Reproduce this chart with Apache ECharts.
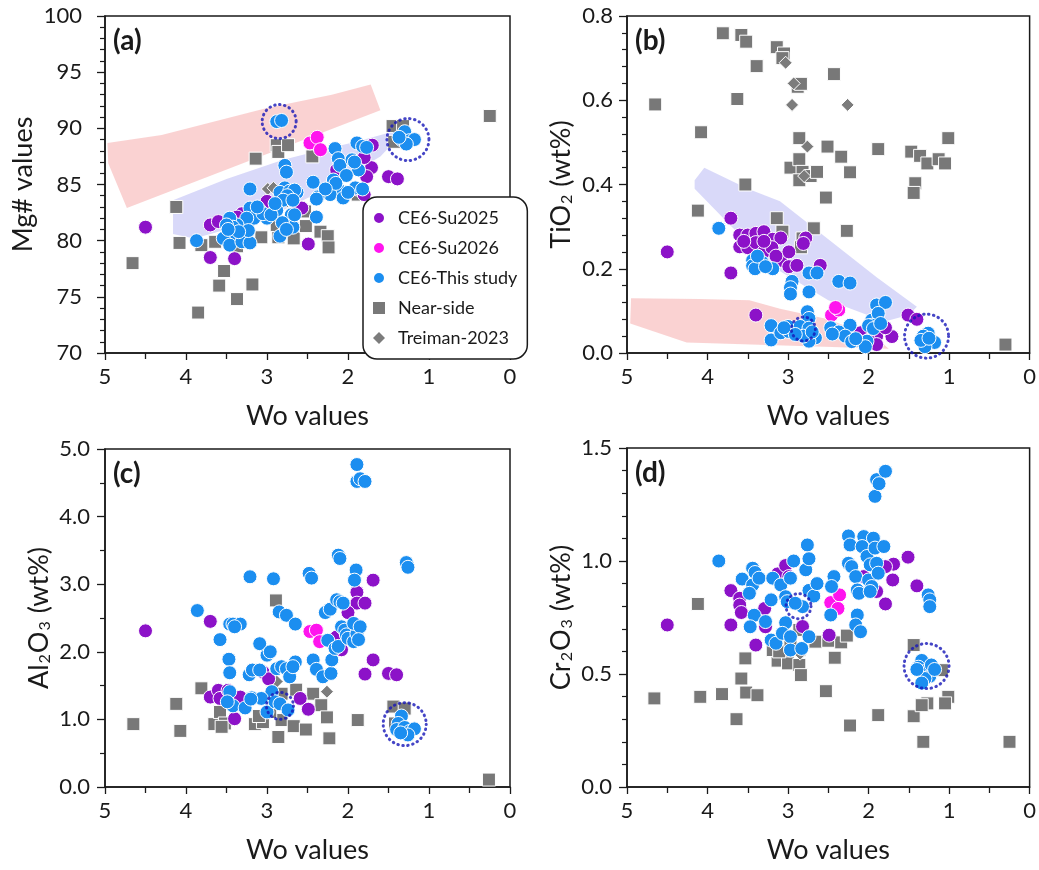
<!DOCTYPE html>
<html>
<head>
<meta charset="utf-8">
<title>Wo values scatter</title>
<script src="https://cdn.jsdelivr.net/npm/echarts@6/dist/echarts.min.js"></script>
<style>
    html, body { margin: 0; padding: 0; background: #fff; }
    #chart { width: 1039px; height: 870px; }
</style>
</head>
<body>
<div id="chart"></div>
<script>
// ---- data: [Wo, value] ----
// (a) Mg#
var nearA = [[4.66,78.0],[4.12,83.0],[4.08,79.8],[3.85,73.6],[3.81,79.6],[3.64,79.9],[3.59,76.0],[3.53,77.3],[3.37,74.8],[3.37,79.5],[3.18,76.1],[3.14,87.3],[3.07,80.3],[2.88,88.5],[2.86,87.9],[2.74,88.5],[2.86,80.3],[2.88,81.4],[2.67,80.2],[2.53,82.6],[2.52,81.3],[2.44,87.5],[2.34,80.8],[2.25,80.4],[2.24,79.4],[1.88,84.1],[1.45,90.2],[1.43,88.8],[1.32,90.2],[0.25,91.1]];
var treimanA = [[2.99,84.6],[2.92,84.7],[2.75,83.5],[2.27,84.4]];
var su25A = [[4.50,81.2],[3.70,81.4],[3.60,81.7],[3.70,78.5],[3.40,78.4],[3.31,82.4],[3.37,82.1],[3.00,83.5],[2.61,83.0],[2.57,82.9],[2.49,79.7],[1.70,88.5],[1.71,86.5],[1.50,85.7],[1.39,85.5],[1.80,87.4],[1.77,85.7],[2.14,86.3],[1.89,84.6],[1.80,84.1]];
var su26A = [[2.47,88.7],[2.38,89.2],[2.34,88.1]];
var thisA = [[2.88,90.6],[2.82,90.7],[1.30,89.7],[1.34,89.0],[1.24,88.9],[1.18,89.0],[1.28,88.6],[1.37,89.2],
    [2.16,88.2],[2.12,87.3],[2.10,86.7],[1.89,88.7],[1.82,88.4],[1.95,87.2],[1.87,86.3],[2.02,85.8],[1.92,87.0],[1.77,88.3],
    [2.18,85.4],[2.12,84.6],[2.22,84.1],[2.37,83.9],[2.43,85.2],[2.06,83.8],[1.91,84.7],[1.82,84.6],[2.15,85.1],[2.00,84.3],[2.28,84.6],
    [2.39,83.7],[2.39,82.1],[2.63,84.3],
    [2.78,86.7],[2.76,86.1],[2.78,84.7],[2.84,84.3],[2.72,84.4],[2.66,84.5],[2.75,84.0],[2.80,83.6],[2.68,83.6],
    [3.21,84.6],[3.21,82.9],[3.09,82.7],[3.00,82.0],[3.16,82.0],[3.25,82.0],[3.37,81.4],
    [3.46,82.0],[3.42,81.2],[3.50,81.4],[3.44,80.5],[3.54,80.2],[3.46,79.6],[3.31,79.9],[3.21,79.8],[3.87,80.0],[3.23,80.9],[3.35,80.8],[3.48,81.0],
    [2.84,80.4],[2.88,82.7],[2.70,82.3],[2.68,81.2],[2.81,81.6],[2.76,81.0],[3.05,82.4],[2.95,82.3],[3.12,83.0],[2.90,83.3],[2.66,82.3]];

// (b) TiO2
var nearB = [[4.65,0.59],[4.08,0.524],[3.81,0.759],[3.63,0.603],[3.58,0.755],[3.52,0.739],[3.53,0.40],[3.39,0.681],[4.12,0.338],[3.14,0.726],[3.05,0.711],[3.07,0.70],[2.86,0.51],[2.88,0.632],[2.84,0.639],[2.97,0.44],[2.86,0.46],[2.82,0.43],[2.86,0.41],[2.72,0.42],[2.64,0.43],[2.43,0.662],[2.51,0.49],[2.34,0.466],[2.23,0.429],[2.53,0.369],[3.14,0.32],[3.07,0.288],[2.68,0.296],[2.82,0.272],[2.84,0.251],[2.27,0.29],[1.88,0.484],[1.47,0.478],[1.42,0.403],[1.44,0.38],[1.36,0.468],[1.27,0.45],[1.13,0.46],[1.05,0.45],[1.01,0.51],[0.30,0.02]];
var treimanB = [[3.03,0.689],[2.95,0.589],[2.26,0.589],[2.76,0.49],[2.93,0.64],[2.80,0.42]];
var su25B = [[4.50,0.24],[3.71,0.32],[3.71,0.19],[3.60,0.28],[3.50,0.28],[3.40,0.284],[3.30,0.288],[3.60,0.252],[3.50,0.25],[3.40,0.262],[3.30,0.24],[3.19,0.27],[3.09,0.273],[3.09,0.22],[2.99,0.24],[2.99,0.205],[2.89,0.208],[2.78,0.273],[2.81,0.26],[2.60,0.208],[3.20,0.25],[3.30,0.265],[3.55,0.265],[3.15,0.23],
    [3.40,0.09],[2.10,0.048],[1.90,0.04],[1.71,0.039],[1.79,0.06],[2.00,0.03],[1.90,0.02],[1.51,0.09],[1.40,0.08]];
var su26B = [[2.46,0.09],[2.37,0.102],[2.41,0.108]];
var thisB = [[3.86,0.296],[3.44,0.22],[3.32,0.215],[3.44,0.207],[3.19,0.20],[3.41,0.20],[3.38,0.23],[3.28,0.205],[2.74,0.19],[2.64,0.19],[2.95,0.17],[2.97,0.155],[2.97,0.14],[2.74,0.145],[2.37,0.17],[2.23,0.166],[2.76,0.098],[2.74,0.082],
    [3.21,0.065],[3.21,0.031],[3.09,0.048],[2.99,0.051],[3.00,0.063],[2.85,0.063],[2.74,0.059],[2.66,0.036],[2.74,0.028],[2.81,0.04],[2.91,0.044],[3.05,0.06],[2.70,0.05],
    [2.47,0.06],[2.23,0.066],[2.37,0.05],[2.29,0.04],[2.14,0.031],[2.02,0.028],[2.04,0.015],[2.21,0.027],[2.45,0.045],[2.16,0.034],
    [1.96,0.078],[1.90,0.114],[1.79,0.12],[1.88,0.094],[1.96,0.066],[2.00,0.065],[1.94,0.058],[1.85,0.07],
    [1.26,0.047],[1.32,0.04],[1.28,0.025],[1.22,0.03],[1.18,0.025],[1.30,0.015],[1.35,0.03],[1.25,0.035]];

// (c) Al2O3
var nearC = [[4.65,0.93],[4.12,1.23],[4.07,0.83],[3.81,1.46],[3.65,0.93],[3.58,1.11],[3.52,0.94],[3.56,0.89],[2.89,2.76],[2.86,0.74],[3.15,0.93],[3.05,0.96],[2.82,0.99],[2.82,1.38],[2.67,0.90],[2.64,1.44],[2.52,0.85],[2.43,1.38],[2.33,1.21],[2.26,1.03],[2.23,0.72],[1.88,0.99],[1.44,1.19],[1.30,1.16],[1.42,0.94],[0.26,0.11],[2.96,1.11],[3.10,1.05]];
var treimanC = [[2.26,1.41],[2.96,1.53],[2.88,1.56]];
var su25C = [[4.50,2.31],[3.70,2.45],[3.70,1.33],[3.60,1.43],[3.58,1.31],[3.48,1.43],[3.40,1.01],[3.33,1.33],[3.05,1.70],[2.98,1.60],[2.59,1.31],[2.49,1.15],[1.69,3.06],[1.89,2.88],[1.89,2.72],[1.79,2.72],[2.00,2.58],[2.08,2.03],[1.69,1.88],[1.79,1.67],[1.50,1.68],[1.40,1.66],[2.14,2.22]];
var su26C = [[2.47,2.30],[2.39,2.32],[2.35,2.15]];
var thisC = [[3.86,2.61],[3.58,2.18],[3.46,2.41],[3.42,2.41],[3.33,2.41],[3.40,2.37],[3.47,1.89],[3.46,1.69],[3.46,1.41],[3.42,1.20],[3.49,1.26],[3.27,1.17],[3.21,3.11],[3.22,1.66],[3.18,1.73],[3.19,1.32],[3.09,2.12],[3.09,1.73],[3.05,1.31],[3.00,1.11],[3.00,1.95],[2.96,2.00],[2.92,3.08],[2.94,1.41],[2.90,1.26],[2.84,1.23],[2.74,1.14],[2.85,2.59],[2.76,2.54],[2.65,2.41],
    [2.88,1.75],[2.82,1.78],[2.76,1.75],[2.72,1.63],[2.65,1.85],[2.68,1.78],[2.48,3.16],[2.45,3.09],[2.43,1.88],[2.39,1.74],[2.31,1.63],[2.21,1.68],[2.20,1.88],[2.25,2.17],[2.28,2.58],[2.22,2.63],[2.16,2.05],[2.12,2.08],[2.14,2.77],[2.10,2.74],[2.06,2.72],[2.12,3.43],[2.10,3.38],
    [2.08,2.37],[2.04,2.32],[2.02,2.25],[2.00,2.20],[1.93,2.15],[1.89,2.27],[1.93,2.42],[1.85,2.37],[1.87,2.18],[1.90,3.21],[1.92,3.06],[1.89,4.77],[1.89,4.52],[1.85,4.56],[1.79,4.52],[1.28,3.32],[1.26,3.25],
    [1.34,1.05],[1.38,0.94],[1.40,0.85],[1.30,0.88],[1.24,0.82],[1.18,0.86],[1.26,0.77],[1.35,0.80],[3.07,1.31],[3.20,1.30]];

// (d) Cr2O3
var nearD = [[4.66,0.392],[4.12,0.81],[4.09,0.399],[3.82,0.411],[3.64,0.30],[3.58,0.48],[3.53,0.569],[3.52,0.418],[3.38,0.406],[3.13,0.559],[3.00,0.574],[3.00,0.547],[2.86,0.54],[2.84,0.495],[2.86,0.695],[2.86,0.606],[2.66,0.643],[2.50,0.647],[2.34,0.64],[2.27,0.67],[2.53,0.424],[2.42,0.572],[2.23,0.272],[1.88,0.318],[1.44,0.628],[1.44,0.313],[1.32,0.20],[1.27,0.37],[1.34,0.362],[1.09,0.517],[1.01,0.399],[1.05,0.37],[0.25,0.20],[3.19,0.606],[3.11,0.60],[2.97,0.635]];
var treimanD = [[2.85,0.59]];
var su25D = [[4.50,0.717],[3.71,0.869],[3.71,0.717],[3.60,0.835],[3.60,0.805],[3.58,0.772],[3.40,0.628],[3.29,0.79],[3.28,0.709],[3.13,0.943],[3.03,0.98],[2.99,0.931],[2.82,0.71],[2.49,0.672],[1.51,1.017],[1.40,0.89],[1.79,0.81],[1.70,0.916],[1.69,0.986],[1.79,0.975],[1.90,0.865],[2.06,0.931]];
var su26D = [[2.47,0.816],[2.36,0.85],[2.38,0.79]];
var thisD = [[3.86,1.0],[3.57,0.92],[3.44,0.968],[3.41,0.949],[3.44,0.894],[3.48,0.857],[3.36,0.924],[3.42,0.76],[3.47,0.709],[3.28,0.732],[3.21,0.65],[3.15,0.636],[3.21,0.828],[3.19,0.924],[3.09,0.894],[3.03,0.842],[3.01,0.82],[3.03,0.727],[3.07,0.68],[2.97,0.665],[2.97,0.606],[2.93,1.0],[2.97,0.924],[2.83,0.613],[2.82,0.798],[2.91,0.813],[2.78,0.961],[2.76,1.071],[2.74,1.01],[2.74,0.87],[2.68,0.845],[2.64,0.90],[2.74,0.665],
    [2.43,0.931],[2.46,0.887],[2.47,0.761],[2.25,1.111],[2.23,1.071],[2.25,0.99],[2.21,0.975],[2.16,0.931],[2.14,0.872],[2.12,0.857],[2.14,0.761],[2.16,0.717],[2.10,0.687],[2.06,1.108],[2.08,1.064],[2.02,1.02],[1.98,0.983],[1.94,1.101],[2.00,0.916],[1.96,0.887],[1.98,0.865],[1.90,0.99],[1.88,0.946],[1.92,1.057],[1.81,1.064],
    [1.92,1.286],[1.90,1.36],[1.87,1.342],[1.79,1.397],[1.26,0.85],[1.24,0.828],[1.24,0.798],
    [1.34,0.56],[1.38,0.53],[1.32,0.51],[1.24,0.49],[1.30,0.48],[1.40,0.52],[1.34,0.46],[1.22,0.54],[1.18,0.52]];

// shaded fields (polygon vertices)
var pinkA = [[4.97,88.7],[4.3,89.4],[3.0,91.8],[2.2,93.0],[1.72,93.9],[1.6,91.6],[4.73,82.9],[4.96,86.9]];
var lavA = [[4.16,83.6],[3.5,85.5],[2.8,87.2],[2.2,88.3],[1.9,88.8],[1.45,89.7],[1.4,89.0],[1.6,87.5],[2.3,84.5],[3.0,82.0],[3.9,80.2],[4.16,80.6]];
var pinkB = [[4.95,0.13],[4.1,0.128],[3.48,0.125],[3.1,0.105],[2.5,0.08],[1.9,0.035],[1.75,0.01],[4.26,0.025],[4.96,0.07]];
var lavB = [[4.16,0.41],[4.04,0.44],[3.5,0.39],[3.1,0.36],[2.5,0.27],[1.9,0.18],[1.4,0.11],[1.5,0.09],[1.8,0.075],[2.5,0.125],[3.15,0.2],[3.7,0.3],[4.16,0.39]];

// dotted rings: [Wo, value, diameter]
var ringsA = [[2.85,90.6,34],[1.26,89.0,42]];
var ringsB = [[2.81,0.057,24],[1.28,0.04,44]];
var ringsC = [[2.84,1.2,27],[1.30,0.93,43]];
var ringsD = [[2.87,0.80,25],[1.28,0.535,45]];

var legendNames = ["CE6-Su2025", "CE6-Su2026", "CE6-This study", "Near-side", "Treiman-2023"];
var panelLabels = ["(a)", "(b)", "(c)", "(d)"];

var FONT = "Lato";
var INK = "#1a1a1a";

function scatterSeries(name, data, idx, symbol, size, color, z) {
    return {
        name: name,
        type: "scatter",
        xAxisIndex: idx,
        yAxisIndex: idx,
        symbol: symbol,
        symbolSize: size,
        data: data,
        z: z,
        itemStyle: { color: color, borderColor: "#fff", borderWidth: 1, opacity: 1 },
        emphasis: { disabled: true }
    };
}

function fieldSeries(poly, idx, color) {
    return {
        type: "custom",
        xAxisIndex: idx,
        yAxisIndex: idx,
        silent: true,
        z: 1,
        data: poly,
        renderItem: function (params, api) {
            if (params.dataIndex !== 0) return;
            var pts = poly.map(function (p) { return api.coord(p); });
            return { type: "polygon", shape: { points: pts }, style: { fill: color } };
        }
    };
}

function ringSeries(data, idx) {
    return {
        type: "scatter",
        xAxisIndex: idx,
        yAxisIndex: idx,
        silent: true,
        z: 6,
        symbol: "circle",
        symbolSize: function (v) { return v[2]; },
        data: data,
        itemStyle: {
            color: "rgba(0,0,0,0)",
            borderColor: "#1616b8",
            borderWidth: 3,
            borderType: [0.5, 4.5],
            borderCap: "round"
        }
    };
}

var grids = [
    { left: 105, top: 16, width: 405, height: 337 },
    { left: 627, top: 16, width: 405, height: 337 },
    { left: 105, top: 449, width: 405, height: 338 },
    { left: 627, top: 448, width: 405, height: 339 }
];

var yCfg = [
    { name: "Mg# values", min: 70, max: 100, interval: 5, minor: 5, dec: 0, gap: 68, margin: 23 },
    { name: "{n|TiO}{s|2}{n| (wt%)}", min: 0, max: 0.8, interval: 0.2, minor: 5, dec: 1, gap: 52, margin: 14 },
    { name: "{n|Al}{s|2}{n|O}{s|3}{n| (wt%)}", min: 0, max: 5, interval: 1, minor: 2, dec: 1, gap: 52, margin: 15 },
    { name: "{n|Cr}{s|2}{n|O}{s|3}{n| (wt%)}", min: 0, max: 1.5, interval: 0.5, minor: 5, dec: 1, gap: 52, margin: 15 }
];

var chart = echarts.init(document.getElementById("chart"), null, { renderer: "canvas" });

var option = {
    animation: false,
    backgroundColor: "#fff",
    textStyle: { fontFamily: FONT, color: INK },
    title: panelLabels.map(function (t, i) {
        return {
            text: t,
            left: grids[i].left + 8,
            top: grids[i].top + 11,
            padding: 0,
            textStyle: { fontFamily: FONT, fontSize: 28, fontWeight: "bold", color: INK }
        };
    }),
    legend: {
        orient: "vertical",
        left: 363,
        top: 197,
        padding: [12, 10, 12, 9],
        itemGap: 12,
        itemWidth: 12,
        itemHeight: 12,
        backgroundColor: "#fff",
        borderColor: INK,
        borderWidth: 1.5,
        borderRadius: 14,
        selectedMode: false,
        textStyle: { fontFamily: FONT, fontSize: 18, color: INK, padding: [0, 0, 0, 8] },
        data: [
            { name: legendNames[0], icon: "circle" },
            { name: legendNames[1], icon: "circle" },
            { name: legendNames[2], icon: "circle" },
            { name: legendNames[3], icon: "rect", itemStyle: { borderWidth: 0 } },
            { name: legendNames[4], icon: "diamond", itemStyle: { borderWidth: 0 } }
        ],
        z: 10
    },
    grid: grids.map(function (g) {
        return { left: g.left, top: g.top, width: g.width, height: g.height, show: true, borderColor: INK, borderWidth: 1.5, backgroundColor: "transparent" };
    }),
    xAxis: grids.map(function (g, i) {
        return {
            gridIndex: i,
            type: "value",
            inverse: true,
            min: 0,
            max: 5,
            interval: 1,
            name: "Wo values",
            nameLocation: "middle",
            nameGap: 50,
            nameTextStyle: { fontFamily: FONT, fontSize: 27, color: INK },
            axisLine: { show: true, onZero: false, lineStyle: { color: INK, width: 1.5 } },
            axisTick: { show: true, length: 7, lineStyle: { color: INK, width: 1.3 } },
            minorTick: { show: true, splitNumber: 2, length: 6, lineStyle: { color: INK, width: 1.3 } },
            axisLabel: { fontFamily: FONT, fontSize: 22, color: INK, margin: 13 },
            splitLine: { show: false }
        };
    }),
    yAxis: yCfg.map(function (c, i) {
        return {
            gridIndex: i,
            type: "value",
            min: c.min,
            max: c.max,
            interval: c.interval,
            name: c.name,
            nameLocation: "middle",
            nameGap: c.gap,
            nameTextStyle: {
                fontFamily: FONT, fontSize: 27, color: INK,
                rich: {
                    n: { fontFamily: FONT, fontSize: 27, color: INK },
                    s: { fontFamily: FONT, fontSize: 16, color: INK, verticalAlign: "bottom", padding: [0, 1, 0, 1] }
                }
            },
            axisLine: { show: true, onZero: false, lineStyle: { color: INK, width: 1.5 } },
            axisTick: { show: true, length: 8, lineStyle: { color: INK, width: 1.3 } },
            minorTick: { show: true, splitNumber: c.minor, length: 5, lineStyle: { color: INK, width: 1.2 } },
            axisLabel: {
                fontFamily: FONT, fontSize: 22, color: INK, margin: c.margin,
                formatter: function (v) { return v.toFixed(c.dec); }
            },
            splitLine: { show: false }
        };
    }),
    series: []
};

var fields = [[pinkA, lavA], [pinkB, lavB], [], []];
var sets = [
    [nearA, treimanA, su25A, su26A, thisA, ringsA],
    [nearB, treimanB, su25B, su26B, thisB, ringsB],
    [nearC, treimanC, su25C, su26C, thisC, ringsC],
    [nearD, treimanD, su25D, su26D, thisD, ringsD]
];

for (var i = 0; i < 4; i++) {
    if (fields[i].length) {
        option.series.push(fieldSeries(fields[i][0], i, "rgba(242,148,148,0.42)"));
        option.series.push(fieldSeries(fields[i][1], i, "rgba(140,140,238,0.33)"));
    }
    var s = sets[i];
    option.series.push(scatterSeries(legendNames[3], s[0], i, "rect", 13, "#787878", 2));
    option.series.push(scatterSeries(legendNames[4], s[1], i, "diamond", 13, "#7c7c7c", 2));
    option.series.push(scatterSeries(legendNames[0], s[2], i, "circle", 14, "#8c12c8", 3));
    option.series.push(scatterSeries(legendNames[1], s[3], i, "circle", 14, "#ff14ee", 3));
    option.series.push(scatterSeries(legendNames[2], s[4], i, "circle", 14, "#1b8ef0", 4));
    option.series.push(ringSeries(s[5], i));
}

chart.setOption(option);
</script>
</body>
</html>
